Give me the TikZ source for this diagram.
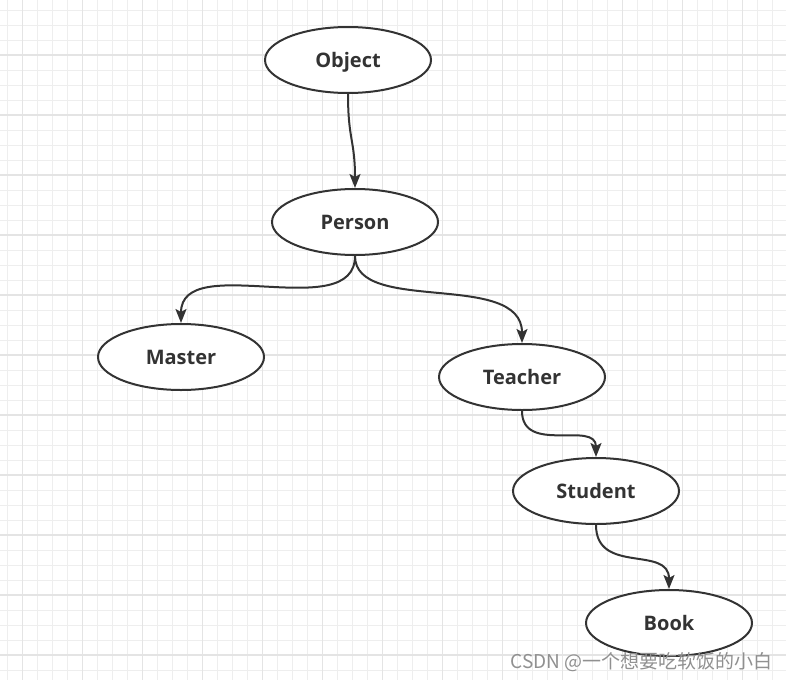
\documentclass[tikz,border=0pt]{standalone}
\usepackage{fontspec}
\setmainfont{Open Sans}
\newfontfamily\cjkwm{Noto Sans CJK SC}
\usetikzlibrary{arrows.meta,shapes.geometric}
\definecolor{gridminor}{HTML}{EEEEEE}
\definecolor{gridmajor}{HTML}{E4E4E4}
\definecolor{ink}{HTML}{333333}
\definecolor{wm}{HTML}{909090}
\tikzset{
  cls/.style={ellipse,draw=ink,line width=2pt,fill=white,minimum width=166pt,minimum height=66pt,inner sep=0pt,
    font=\bfseries\fontsize{20}{24}\selectfont,text=ink,text height=15pt,text depth=1pt},
  link/.style={draw=ink,line width=2pt,-{Stealth[length=14pt,width=11pt,inset=3pt]}},
  minorline/.style={gridminor,line width=1pt},
  majorline/.style={gridmajor,line width=1.2pt}
}
\begin{document}
\begin{tikzpicture}[x=1pt,y=-1pt]
\useasboundingbox (0,0) rectangle (786,680);
\fill[white] (0,0) rectangle (786,680);
\foreach \i in {0,...,52} {
  \pgfmathsetmacro{\xx}{7.3+15*\i}
  \draw[minorline] (\xx,0) -- (\xx,680);
}
\foreach \i in {0,...,45} {
  \pgfmathsetmacro{\yy}{10+15*\i}
  \draw[minorline] (0,\yy) -- (786,\yy);
}
\foreach \i in {0,...,13} {
  \pgfmathsetmacro{\xx}{22.3+60*\i}
  \draw[majorline] (\xx,0) -- (\xx,680);
}
\foreach \i in {0,...,11} {
  \pgfmathsetmacro{\yy}{55+60*\i}
  \draw[majorline] (0,\yy) -- (786,\yy);
}
\node[cls] (obj) at (348,60) {Object};
\node[cls] (per) at (355,222) {Person};
\node[cls] (mas) at (181,357) {Master};
\node[cls] (tea) at (522,377) {Teacher};
\node[cls] (stu) at (596,491) {Student};
\node[cls] (boo) at (669,623) {Book};
\draw[link] (obj.south) .. controls (348,140) and (355,140) .. (per.north);
\draw[link] (per.south) .. controls (355,325) and (181,250) .. (mas.north);
\draw[link] (per.south) .. controls (355,315) and (522,270) .. (tea.north);
\draw[link] (tea.south) .. controls (522,455) and (596,420) .. (stu.north);
\draw[link] (stu.south) .. controls (596,575) and (669,545) .. (boo.north);
\node[anchor=base east,text=wm,font=\cjkwm\fontsize{19}{22}\selectfont,inner sep=0pt] (wmark) at (773,668) {CSDN @一个想要吃软饭的小白};
\end{tikzpicture}
\end{document}
